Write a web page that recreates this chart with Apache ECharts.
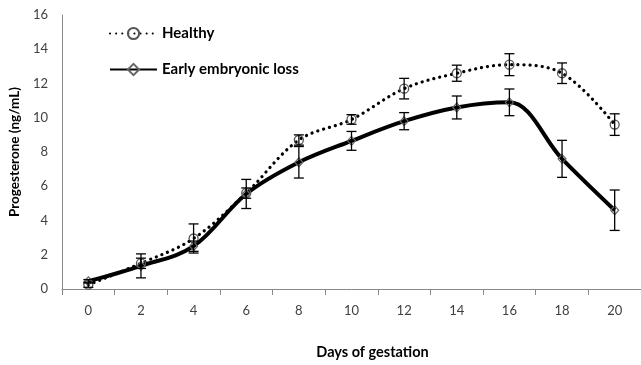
<!DOCTYPE html>
<html>
<head>
<meta charset="utf-8">
<script src="https://cdn.jsdelivr.net/npm/echarts@6/dist/echarts.min.js"></script>
<style>html,body{margin:0;padding:0;background:#fff}#c{width:641px;height:365px}</style>
</head>
<body>
<div id="c"></div>
<script>
var days = ['0','2','4','6','8','10','12','14','16','18','20'];
var healthy    = [0.25, 1.5, 2.95, 5.6, 8.7, 9.9, 11.7, 12.6, 13.1, 12.6, 9.6];
var healthyErr = [0.15, 0.3, 0.85, 0.3, 0.3, 0.28, 0.6, 0.47, 0.64, 0.6, 0.63];
var loss       = [0.45, 1.35, 2.5, 5.55, 7.4, 8.65, 9.8, 10.6, 10.9, 7.6, 4.6];
var lossErr    = [0.1, 0.7, 0.3, 0.85, 0.92, 0.55, 0.5, 0.67, 0.78, 1.08, 1.18];

function errData(vals, errs){
  return vals.map(function(v,i){ return [i, v - errs[i], v + errs[i]]; });
}
function errRender(params, api){
  var i = api.value(0);
  var lo = api.coord([i, api.value(1)]);
  var hi = api.coord([i, api.value(2)]);
  var hw = 5;
  var st = {stroke:'#000', lineWidth:1.3};
  return {type:'group', children:[
    {type:'line', shape:{x1:lo[0],y1:lo[1],x2:hi[0],y2:hi[1]}, style:st},
    {type:'line', shape:{x1:lo[0]-hw,y1:lo[1],x2:lo[0]+hw,y2:lo[1]}, style:st},
    {type:'line', shape:{x1:hi[0]-hw,y1:hi[1],x2:hi[0]+hw,y2:hi[1]}, style:st}
  ]};
}

var chart = echarts.init(document.getElementById('c'), null, {renderer:'canvas'});
var font = 'Lato, "Open Sans", sans-serif';
chart.setOption({
  animation:false,
  textStyle:{fontFamily:font},
  grid:{left:62, right:-7, top:15, bottom:75, containLabel:false},
  legend:{
    orient:'vertical', left:104, top:21, itemWidth:47, itemHeight:14, itemGap:21,
    data:['Healthy','Early embryonic loss'],
    textStyle:{fontFamily:font, fontWeight:'bold', fontSize:15, color:'#000', lineHeight:14}
  },
  xAxis:{
    type:'category', data:days, boundaryGap:true,
    axisLine:{lineStyle:{color:'#888', width:1}},
    axisTick:{show:true, length:6, lineStyle:{color:'#888'}},
    axisLabel:{color:'#404040', fontSize:13, margin:15, fontFamily:font},
    name:'Days of gestation', nameLocation:'middle', nameGap:56,
    nameTextStyle:{fontWeight:'bold', fontSize:14.5, color:'#000', padding:[0,0,0,42], fontFamily:font}
  },
  yAxis:{
    type:'value', min:0, max:16, interval:2,
    axisLine:{show:true, lineStyle:{color:'#888', width:1}},
    axisTick:{show:false},
    splitLine:{show:false},
    axisLabel:{color:'#404040', fontSize:13, margin:14, fontFamily:font},
    name:'Progesterone (ng/mL)', nameLocation:'middle', nameGap:33,
    nameTextStyle:{fontWeight:'bold', fontSize:13.5, color:'#000', fontFamily:font}
  },
  series:[
    {
      name:'Healthy', type:'line', data:healthy, smooth:0.35, z:3,
      symbol:'circle', symbolSize:9,
      lineStyle:{color:'#000', width:3.2, type:[0.1,6], cap:'round'},
      itemStyle:{color:'rgba(255,255,255,0)', borderColor:'#555', borderWidth:1.3}
    },
    {
      name:'Early embryonic loss', type:'line', data:loss, smooth:0.35, z:3,
      symbol:'diamond', symbolSize:[8,9],
      lineStyle:{color:'#000', width:4},
      itemStyle:{color:'rgba(255,255,255,0)', borderColor:'#666', borderWidth:1.2}
    },
    {
      type:'custom', name:'errH', data:errData(healthy, healthyErr), renderItem:errRender, z:4,
      encode:{x:0, y:[1,2]}, silent:true
    },
    {
      type:'custom', name:'errL', data:errData(loss, lossErr), renderItem:errRender, z:4,
      encode:{x:0, y:[1,2]}, silent:true
    }
  ]
});
</script>
</body>
</html>
